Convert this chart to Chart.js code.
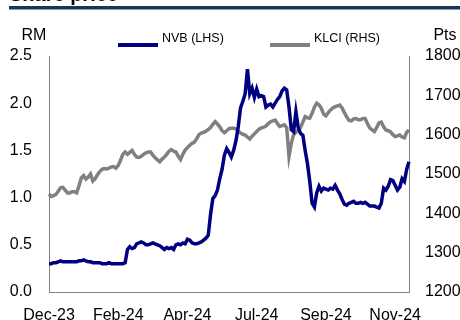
<!DOCTYPE html>
<html>
<head>
<meta charset="utf-8">
<script src="https://cdn.jsdelivr.net/npm/chart.js@4.4.1/dist/chart.umd.min.js"></script>
<style>
  body { margin: 0; background: #fff; }
  #wrap { width: 460px; height: 320px; }
</style>
</head>
<body>
<div id="wrap"><canvas id="price-chart" width="460" height="320"></canvas></div>
<script>
// daily closes, Dec-23 .. Nov-24
var nvb = [0.30,0.30,0.31,0.31,0.32,0.33,0.32,0.32,0.32,0.32,
  0.32,0.32,0.32,0.33,0.33,0.34,0.33,0.32,0.32,0.31,
  0.31,0.31,0.31,0.30,0.30,0.30,0.31,0.30,0.30,0.30,
  0.30,0.30,0.30,0.31,0.45,0.48,0.46,0.47,0.51,0.52,
  0.53,0.52,0.50,0.50,0.51,0.52,0.51,0.50,0.49,0.47,
  0.45,0.47,0.46,0.47,0.45,0.50,0.51,0.50,0.52,0.51,
  0.56,0.55,0.52,0.51,0.51,0.52,0.53,0.55,0.57,0.60,
  0.82,0.99,1.02,1.08,1.20,1.30,1.45,1.52,1.48,1.43,
  1.50,1.60,1.75,1.95,2.02,2.10,2.36,2.10,2.16,2.06,
  2.15,2.07,2.08,2.07,1.96,1.98,1.99,1.96,2.00,2.04,
  2.07,2.13,2.16,2.14,1.96,1.72,1.70,1.91,1.74,1.68,
  1.66,1.50,1.36,1.17,0.94,0.90,1.05,1.12,1.07,1.10,
  1.09,1.08,1.10,1.09,1.13,1.08,1.04,0.98,0.93,0.92,
  0.94,0.95,0.96,0.94,0.94,0.95,0.94,0.95,0.93,0.91,
  0.91,0.91,0.90,0.89,0.94,1.10,1.08,1.12,1.19,1.18,
  1.13,1.08,1.11,1.20,1.17,1.30,1.38];

var klci = [1449,1443,1445,1448,1456,1465,1466,1459,1452,1452,
  1455,1455,1452,1470,1490,1496,1487,1492,1500,1482,
  1488,1498,1506,1512,1514,1513,1515,1518,1519,1515,
  1522,1535,1550,1556,1550,1555,1560,1550,1543,1542,
  1545,1550,1554,1556,1556,1548,1541,1536,1531,1538,
  1543,1550,1558,1562,1558,1556,1545,1537,1550,1561,
  1567,1573,1578,1581,1590,1600,1604,1606,1609,1613,
  1618,1626,1633,1627,1620,1610,1605,1610,1615,1616,
  1616,1615,1609,1604,1601,1599,1594,1589,1596,1602,
  1608,1614,1617,1619,1622,1628,1633,1635,1637,1628,
  1621,1623,1625,1618,1545,1578,1600,1606,1612,1618,
  1632,1646,1643,1642,1654,1670,1680,1676,1667,1652,
  1648,1656,1663,1668,1671,1673,1675,1668,1656,1645,
  1636,1635,1640,1641,1638,1638,1641,1641,1628,1617,
  1612,1608,1618,1630,1632,1620,1612,1610,1607,1600,
  1595,1597,1599,1594,1592,1606,1612];

var monthLabels = ['Dec-23', 'Feb-24', 'Apr-24', 'Jul-24', 'Sep-24', 'Nov-24'];
var labelEvery = 30;

var fontFamily = "'Liberation Sans', Arial, sans-serif";
Chart.defaults.font.family = fontFamily;
Chart.defaults.color = '#000';

// title bar, axis units and the legend row above the plot
var headerPlugin = {
  id: 'header',
  afterDraw: function (chart) {
    var ctx = chart.ctx;
    ctx.save();
    ctx.fillStyle = '#000';
    ctx.font = 'bold 20px ' + fontFamily;
    ctx.textBaseline = 'alphabetic';
    ctx.fillText('Share price', 9, 1);
    ctx.fillStyle = '#1b365d';
    ctx.fillRect(9, 6, 451, 3.5);

    ctx.fillStyle = '#000';
    ctx.font = '16px ' + fontFamily;
    ctx.textAlign = 'center';
    ctx.fillText('RM', 34, 40);
    ctx.fillText('Pts', 445, 40);

    ctx.font = '12.5px ' + fontFamily;
    ctx.textAlign = 'left';
    var starts = [118, 270];
    chart.data.datasets.forEach(function (ds, i) {
      var x = starts[i];
      ctx.fillStyle = ds.borderColor;
      ctx.fillRect(x, 43, 40, 4);
      ctx.fillStyle = '#000';
      ctx.fillText(ds.label, x + 44, 42);
    });
    ctx.restore();
  }
};

new Chart(document.getElementById('price-chart'), {
  type: 'line',
  data: {
    labels: nvb.map(function (v, i) { return i; }),
    datasets: [
      {
        label: 'NVB (LHS)',
        data: nvb,
        yAxisID: 'y',
        borderColor: '#000080',
        backgroundColor: '#000080',
        borderWidth: 3.5,
        pointRadius: 0,
        tension: 0
      },
      {
        label: 'KLCI (RHS)',
        data: klci,
        yAxisID: 'y1',
        borderColor: '#808080',
        backgroundColor: '#808080',
        borderWidth: 3.5,
        pointRadius: 0,
        tension: 0
      }
    ]
  },
  options: {
    responsive: false,
    animation: false,
    layout: { padding: { top: 56, left: 0, right: 0, bottom: 0 } },
    plugins: {
      legend: { display: false },
      title: { display: false },
      tooltip: { enabled: false }
    },
    scales: {
      x: {
        type: 'category',
        offset: false,
        grid: { display: false, drawTicks: false },
        border: { display: true, color: '#808080', width: 1 },
        ticks: {
          autoSkip: false,
          maxRotation: 0,
          padding: 14,
          font: { size: 16 },
          callback: function (v, i) {
            return i % labelEvery === 0 ? monthLabels[i / labelEvery] : null;
          }
        },
        afterFit: function (s) { s.height = 28; }
      },
      y: {
        position: 'left',
        min: 0,
        max: 2.5,
        grid: { display: false, drawTicks: false },
        border: { display: true, color: '#808080', width: 1 },
        ticks: {
          stepSize: 0.5,
          padding: 17,
          font: { size: 16 },
          callback: function (v) { return v.toFixed(1); }
        },
        afterFit: function (s) { s.width = 49; }
      },
      y1: {
        position: 'right',
        min: 1200,
        max: 1800,
        grid: { display: false, drawTicks: false },
        border: { display: true, color: '#808080', width: 1 },
        ticks: {
          stepSize: 100,
          padding: 16,
          font: { size: 16 },
          callback: function (v) { return String(v); }
        },
        afterFit: function (s) { s.width = 51; }
      }
    }
  },
  plugins: [headerPlugin]
});
</script>
</body>
</html>
